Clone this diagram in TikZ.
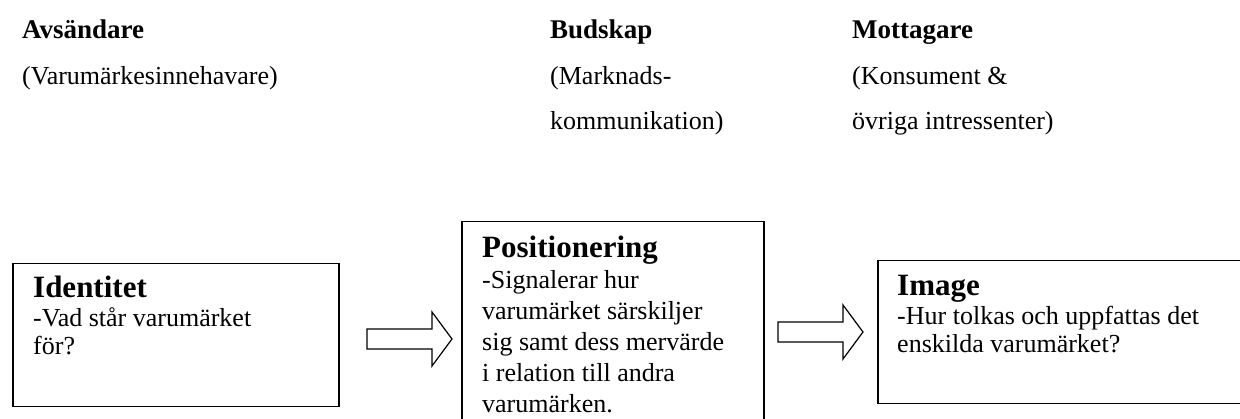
\documentclass[tikz,border=0pt]{standalone}
\usepackage{fontspec}
\setmainfont{Liberation Serif}
\usetikzlibrary{calc}
\tikzset{
  boxline/.style={draw, line width=1.5pt, anchor=north west, inner sep=0pt},
  boxtext/.style={anchor=base west, inner sep=0pt, align=left, font=\fontsize{26}{28.5}\selectfont},
  headtext/.style={anchor=base west, inner sep=0pt, font=\fontsize{26}{30}\selectfont},
  blockarrow/.style={draw, line width=1.2pt, line join=miter}
}
\newcommand{\boxtitle}[1]{{\bfseries\fontsize{31}{28.5}\selectfont #1}}
\newcommand{\headtitle}[1]{{\bfseries\fontsize{27}{30}\selectfont #1}}

\begin{document}
\begin{tikzpicture}[x=1pt, y=-1pt]
  \useasboundingbox (0,0) rectangle (1240,419);
  \clip (0,0) rectangle (1240,419);

  \def\rowA{39}
  \def\rowB{85}
  \def\rowC{130}

  \node[headtext] (sender) at (22,\rowA) {\headtitle{Avsändare}};
  \node[headtext] (senderinfo) at (22,\rowB) {(Varumärkesinnehavare)};

  \node[headtext] (message) at (550,\rowA) {\headtitle{Budskap}};
  \node[headtext] (messageinfo) at (550,\rowB) {(Marknads-};
  \node[headtext] (messageinfob) at (550,\rowC) {kommunikation)};

  \node[headtext] (receiver) at (852,\rowA) {\headtitle{Mottagare}};
  \node[headtext] (receiverinfo) at (852,\rowB) {(Konsument \&};
  \node[headtext] (receiverinfob) at (852,\rowC) {övriga intressenter)};

  % the base of a text block is its last line
  \node[boxline, minimum width=326pt, minimum height=143pt] (idbox) at (12,263) {};
  \node[boxtext] (idtext) at (33,355) {\boxtitle{Identitet}\\-Vad står varumärket\\för?};

  \node[boxline, minimum width=302pt, minimum height=220pt] (posbox) at (461,221) {};
  \node[boxtext, font=\fontsize{26}{31}\selectfont] (postext) at (482,413) {\boxtitle{Positionering}\\-Signalerar hur\\varumärket särskiljer\\sig samt dess mervärde\\i relation till andra\\varumärken.};

  \node[boxline, minimum width=383pt, minimum height=143pt] (imgbox) at (877,260) {};
  \node[boxtext] (imgtext) at (897,353) {\boxtitle{Image}\\-Hur tolkas och uppfattas det\\enskilda varumärket?};

  \coordinate (arrA) at (367,339);
  \coordinate (arrB) at (778,332);
  \foreach \a in {arrA,arrB}
    \draw[blockarrow] (\a) ++(0,-10) -- ++(65,0) -- ++(0,-17) -- ++(20,27)
      -- ++(-20,27) -- ++(0,-17) -- ++(-65,0) -- cycle;
\end{tikzpicture}
\end{document}
